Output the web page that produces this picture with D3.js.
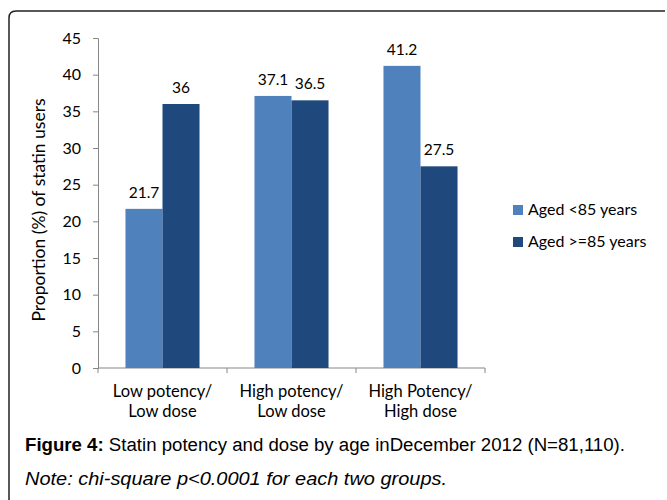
<!DOCTYPE html>
<html>
<head>
<meta charset="utf-8">
<script src="https://cdn.jsdelivr.net/npm/d3@7"></script>
<style>
  body { margin: 0; background: #fff; }
  svg text { fill: #000; }
</style>
</head>
<body>
<div id="chart"></div>
<script>
// data
const categories = [["Low potency/", "Low dose"], ["High potency/", "Low dose"], ["High Potency/", "High dose"]];
const seriesNames = ["Aged <85 years", "Aged >=85 years"];
const under85 = [21.7, 37.1, 41.2];
const over85 = [36, 36.5, 27.5];
const yTicks = [0, 5, 10, 15, 20, 25, 30, 35, 40, 45];
const colors = ["#4F81BD", "#1F497D"];

const width = 667, height = 500;
const svg = d3.select("#chart").append("svg")
    .attr("width", width)
    .attr("height", height);

// frame (only top and left edges visible in the crop)
svg.append("path")
    .attr("d", "M9,510 V18 Q9,11 16,11 H665")
    .attr("fill", "none")
    .attr("stroke", "#222")
    .attr("stroke-width", 1.5);

const left = 98, right = 485;

const x0 = d3.scaleBand()
    .domain(d3.range(categories.length))
    .range([left, right])
    .paddingInner(0.426)
    .paddingOuter(0.213);

const x1 = d3.scaleBand()
    .domain(d3.range(seriesNames.length))
    .range([0, x0.bandwidth()]);

const y = d3.scaleLinear().domain([0, 45]).range([368, 38]);

const font = "Lato, 'Open Sans', sans-serif";

// y axis
const yAxis = svg.append("g")
    .attr("transform", `translate(${left},0)`)
    .call(d3.axisLeft(y).tickValues(yTicks).tickSize(5).tickPadding(12));
yAxis.select(".domain").attr("stroke", "#868686");
yAxis.selectAll(".tick line").attr("stroke", "#868686");
yAxis.selectAll("text").attr("font-family", font).attr("font-size", 16).attr("fill", "#000");

// x axis
const xg = svg.append("g").attr("transform", "translate(0,368)");
xg.append("line").attr("x1", left).attr("x2", right).attr("stroke", "#868686");
const edges = d3.range(categories.length + 1).map(i => left + i * x0.step());
xg.selectAll(".xt").data(edges).enter().append("line")
    .attr("x1", d => d).attr("x2", d => d)
    .attr("y1", 0).attr("y2", 5)
    .attr("stroke", "#868686");

const groups = svg.selectAll(".grp")
    .data(categories.map((c, i) => ({ c, i, vals: [under85[i], over85[i]] })))
    .enter().append("g")
    .attr("transform", d => `translate(${x0(d.i)},0)`);

groups.selectAll("rect")
    .data(d => d.vals)
    .enter().append("rect")
    .attr("x", (d, j) => x1(j))
    .attr("width", x1.bandwidth())
    .attr("y", d => y(d))
    .attr("height", d => y(0) - y(d))
    .attr("fill", (d, j) => colors[j]);

groups.selectAll(".lbl")
    .data(d => d.vals)
    .enter().append("text")
    .attr("x", (d, j) => x1(j) + x1.bandwidth() / 2)
    .attr("y", d => y(d) - 11)
    .attr("text-anchor", "middle")
    .attr("font-family", font)
    .attr("font-size", 15.5)
    .text(d => d);

// category labels
groups.each(function(d) {
    const t = d3.select(this).append("text")
        .attr("text-anchor", "middle")
        .attr("font-family", font)
        .attr("font-size", 16.5);
    d.c.forEach((line, k) => {
        t.append("tspan")
            .attr("x", x0.bandwidth() / 2)
            .attr("y", 397 + k * 20)
            .text(line);
    });
});

// y axis title
svg.append("text")
    .attr("transform", "translate(45,210) rotate(-90)")
    .attr("text-anchor", "middle")
    .attr("font-family", font)
    .attr("font-size", 17.5)
    .text("Proportion (%) of statin users");

// legend
const legend = svg.selectAll(".leg")
    .data(seriesNames)
    .enter().append("g")
    .attr("transform", (d, i) => `translate(513,${205 + i * 32})`);
legend.append("rect").attr("width", 10).attr("height", 10).attr("fill", (d, i) => colors[i]);
legend.append("text")
    .attr("x", 15).attr("y", 10)
    .attr("font-family", font)
    .attr("font-size", 16)
    .text(d => d);

// caption
const capFont = "'Liberation Sans', Arial, sans-serif";
const cap = svg.append("text")
    .attr("x", 25).attr("y", 451)
    .attr("font-family", capFont)
    .attr("font-size", 18)
    .attr("textLength", 600)
    .attr("lengthAdjust", "spacingAndGlyphs");
cap.append("tspan").attr("font-weight", "bold").text("Figure 4:");
cap.append("tspan").text(" Statin potency and dose by age inDecember 2012 (N=81,110).");

svg.append("text")
    .attr("x", 25).attr("y", 485)
    .attr("font-family", capFont)
    .attr("font-size", 18)
    .attr("font-style", "italic")
    .attr("textLength", 422)
    .attr("lengthAdjust", "spacingAndGlyphs")
    .text("Note: chi-square p<0.0001 for each two groups.");
</script>
</body>
</html>
